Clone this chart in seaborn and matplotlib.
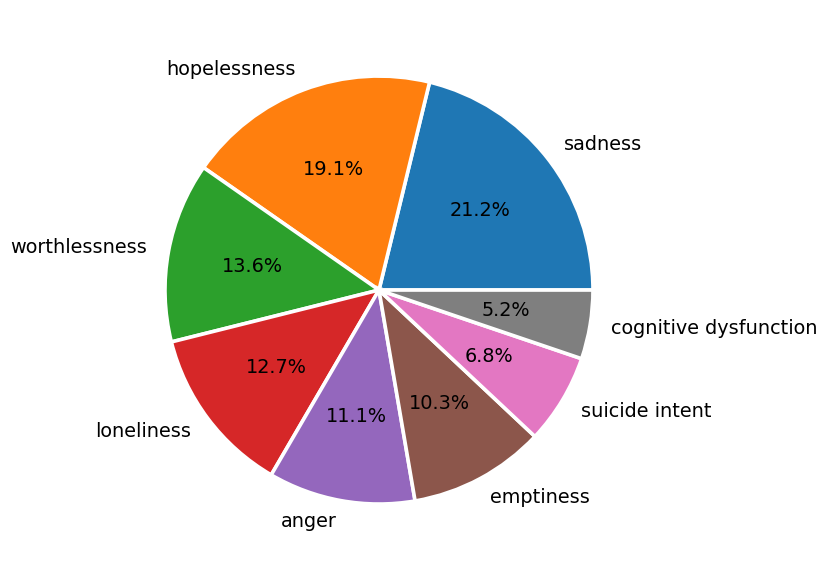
import matplotlib
matplotlib.use("Agg")
import matplotlib.pyplot as plt
import seaborn as sns

# Symptom categories and their shares (percent)
labels = ['sadness', 'hopelessness', 'worthlessness', 'loneliness', 'anger',
          'emptiness', 'suicide intent', 'cognitive dysfunction']
shares = [21.2, 19.1, 13.6, 12.7, 11.1, 10.3, 6.8, 5.2]

colors = sns.color_palette("tab10", len(labels))

fig = plt.figure(figsize=(8.3, 5.81), dpi=100)
# square axes so the pie sits where it does in the reference
ax = fig.add_axes([0.1343, 0.0404, 0.6446, 0.9208])
ax.pie(shares, labels=labels, colors=colors, autopct='%1.1f%%',
       wedgeprops={'edgecolor': 'white', 'linewidth': 2.6},
       textprops={'fontsize': 13.9})
ax.set_aspect('equal')

fig.savefig("out.png", dpi=100)
